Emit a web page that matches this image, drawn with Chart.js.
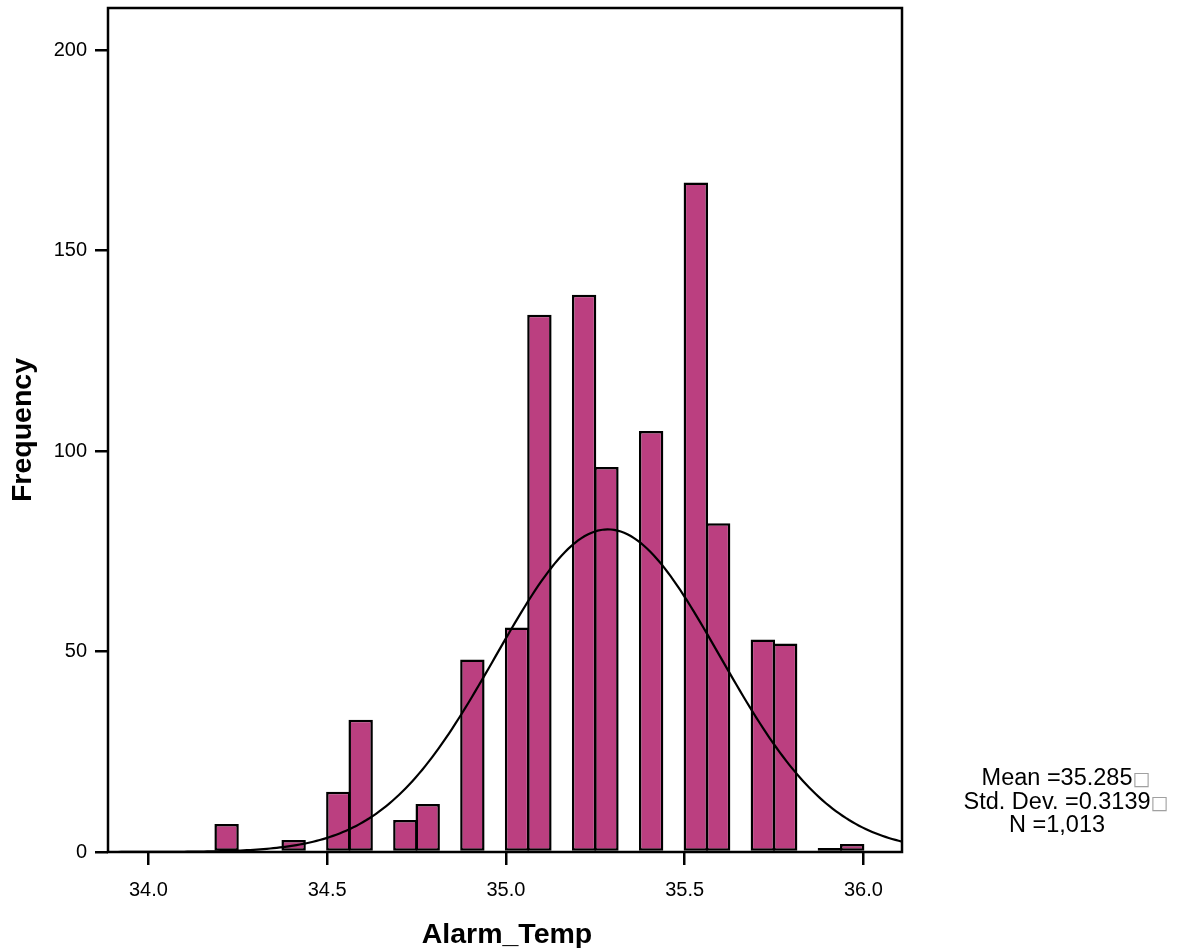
<!DOCTYPE html>
<html>
<head>
<meta charset="utf-8">
<title>Alarm_Temp histogram</title>
<script src="https://cdn.jsdelivr.net/npm/chart.js@4.4.0/dist/chart.umd.min.js"></script>
<style>
  html, body { margin: 0; padding: 0; background: #fff; }
  #wrap { width: 1182px; height: 948px; position: relative; }
</style>
</head>
<body>
<div id="wrap"><canvas id="histChart"></canvas></div>
<script>
// histogram bins (lower edge) and counts, bin width 0.0625
const binWidth = 0.0625;
const binStarts = [34.1875, 34.375, 34.5, 34.5625, 34.6875, 34.75, 34.875, 35.0, 35.0625,
                   35.1875, 35.25, 35.375, 35.5, 35.5625, 35.6875, 35.75, 35.875, 35.9375];
const binCounts = [7, 3, 15, 33, 8, 12, 48, 56, 134, 139, 96, 105, 167, 82, 53, 52, 1, 2];

// summary stats shown at the right
const statMean = 35.285;
const statSd = 0.3139;
const statN = 1013;
const statLines = ["Mean =35.285", "Std. Dev. =0.3139", "N =1,013"];

const xTicks = [34.0, 34.5, 35.0, 35.5, 36.0];
const yTicks = [0, 50, 100, 150, 200];
const xMin = 33.887, xMax = 36.108;
const yMax = 210.5;

const FONT = "'Liberation Sans', Arial, sans-serif";

// bar points at bin centres
const barData = binStarts.map((s, i) => ({ x: s + binWidth / 2, y: binCounts[i] }));

// normal curve scaled to counts (N * width * pdf)
const curveData = [];
for (let k = 0; k <= 240; k++) {
    let x = xMin + (xMax - xMin) * k / 240;
    let z = (x - statMean) / statSd;
    let y = statN * binWidth * Math.exp(-0.5 * z * z) / (statSd * Math.sqrt(2 * Math.PI));
    curveData.push({ x: x, y: y });
}

// frame, axis titles and stats box
const decorations = {
    id: 'decorations',
    afterDraw(chart) {
        const ctx = chart.ctx;
        const a = chart.chartArea;
        ctx.save();
        ctx.strokeStyle = '#000';
        ctx.lineWidth = 2.5;
        ctx.strokeRect(a.left, a.top, a.right - a.left, a.bottom - a.top);

        ctx.fillStyle = '#000';
        ctx.font = "bold 28.5px " + FONT;
        ctx.textAlign = 'center';
        ctx.textBaseline = 'alphabetic';
        ctx.fillText('Alarm_Temp', (a.left + a.right) / 2 + 2, 943);

        ctx.save();
        ctx.translate(31, (a.top + a.bottom) / 2);
        ctx.rotate(-Math.PI / 2);
        ctx.fillText('Frequency', 0, 0);
        ctx.restore();

        const baselines = [785, 809, 832];
        statLines.forEach((line, i) => {
            let box = i < 2 ? '\u25A1' : '';
            ctx.font = "23.5px " + FONT;
            let w = ctx.measureText(line).width;
            ctx.font = "19px 'DejaVu Sans'";
            let bw = box ? ctx.measureText(box).width : 0;
            let cx = i < 2 ? 1066 : 1057;
            let x0 = cx - (w + bw) / 2;
            ctx.textAlign = 'left';
            ctx.font = "23.5px " + FONT;
            ctx.fillStyle = '#000';
            ctx.fillText(line, x0, baselines[i]);
            if (box) {
                ctx.font = "19px 'DejaVu Sans'";
                ctx.fillStyle = '#a0a0a0';
                ctx.fillText(box, x0 + w, baselines[i]);
            }
        });
        ctx.restore();
    }
};

const noPad = (s) => { s.paddingTop = 0; s.paddingBottom = 0; s.paddingLeft = 0; s.paddingRight = 0; };

new Chart(document.getElementById('histChart'), {
    type: 'bar',
    data: {
        datasets: [
            {
                type: 'line',
                data: curveData,
                borderColor: '#000',
                borderWidth: 2.2,
                pointRadius: 0,
                tension: 0,
                fill: false,
                order: 0
            },
            {
                type: 'bar',
                data: barData,
                backgroundColor: '#bb3f80',
                borderColor: '#000',
                borderWidth: 2.5,
                borderSkipped: false,
                barPercentage: 1.092,
                categoryPercentage: 1,
                order: 1
            }
        ]
    },
    options: {
        responsive: true,
        maintainAspectRatio: false,
        animation: false,
        layout: { padding: { top: 8, right: 280, left: 0, bottom: 0 } },
        plugins: { legend: { display: false }, tooltip: { enabled: false } },
        scales: {
            x: {
                type: 'linear',
                min: xMin,
                max: xMax,
                offset: false,
                afterBuildTicks: (s) => { s.ticks = xTicks.map(v => ({ value: v })); },
                afterFit: (s) => { s.height = 96; noPad(s); },
                border: { display: false },
                grid: { offset: false, drawOnChartArea: false, drawTicks: true, tickLength: 13, color: '#000', lineWidth: 2.5 },
                ticks: {
                    autoSkip: false, maxRotation: 0, padding: 13,
                    color: '#000', font: { family: FONT, size: 20 },
                    callback: (v) => Number(v).toFixed(1)
                }
            },
            y: {
                min: 0,
                max: yMax,
                afterBuildTicks: (s) => { s.ticks = yTicks.map(v => ({ value: v })); },
                afterFit: (s) => { s.width = 108; noPad(s); },
                border: { display: false },
                grid: { drawOnChartArea: false, drawTicks: true, tickLength: 13, color: '#000', lineWidth: 2.5 },
                ticks: {
                    padding: 8, color: '#000', font: { family: FONT, size: 20 },
                    callback: (v) => String(v)
                }
            }
        }
    },
    plugins: [decorations]
});
</script>
</body>
</html>
